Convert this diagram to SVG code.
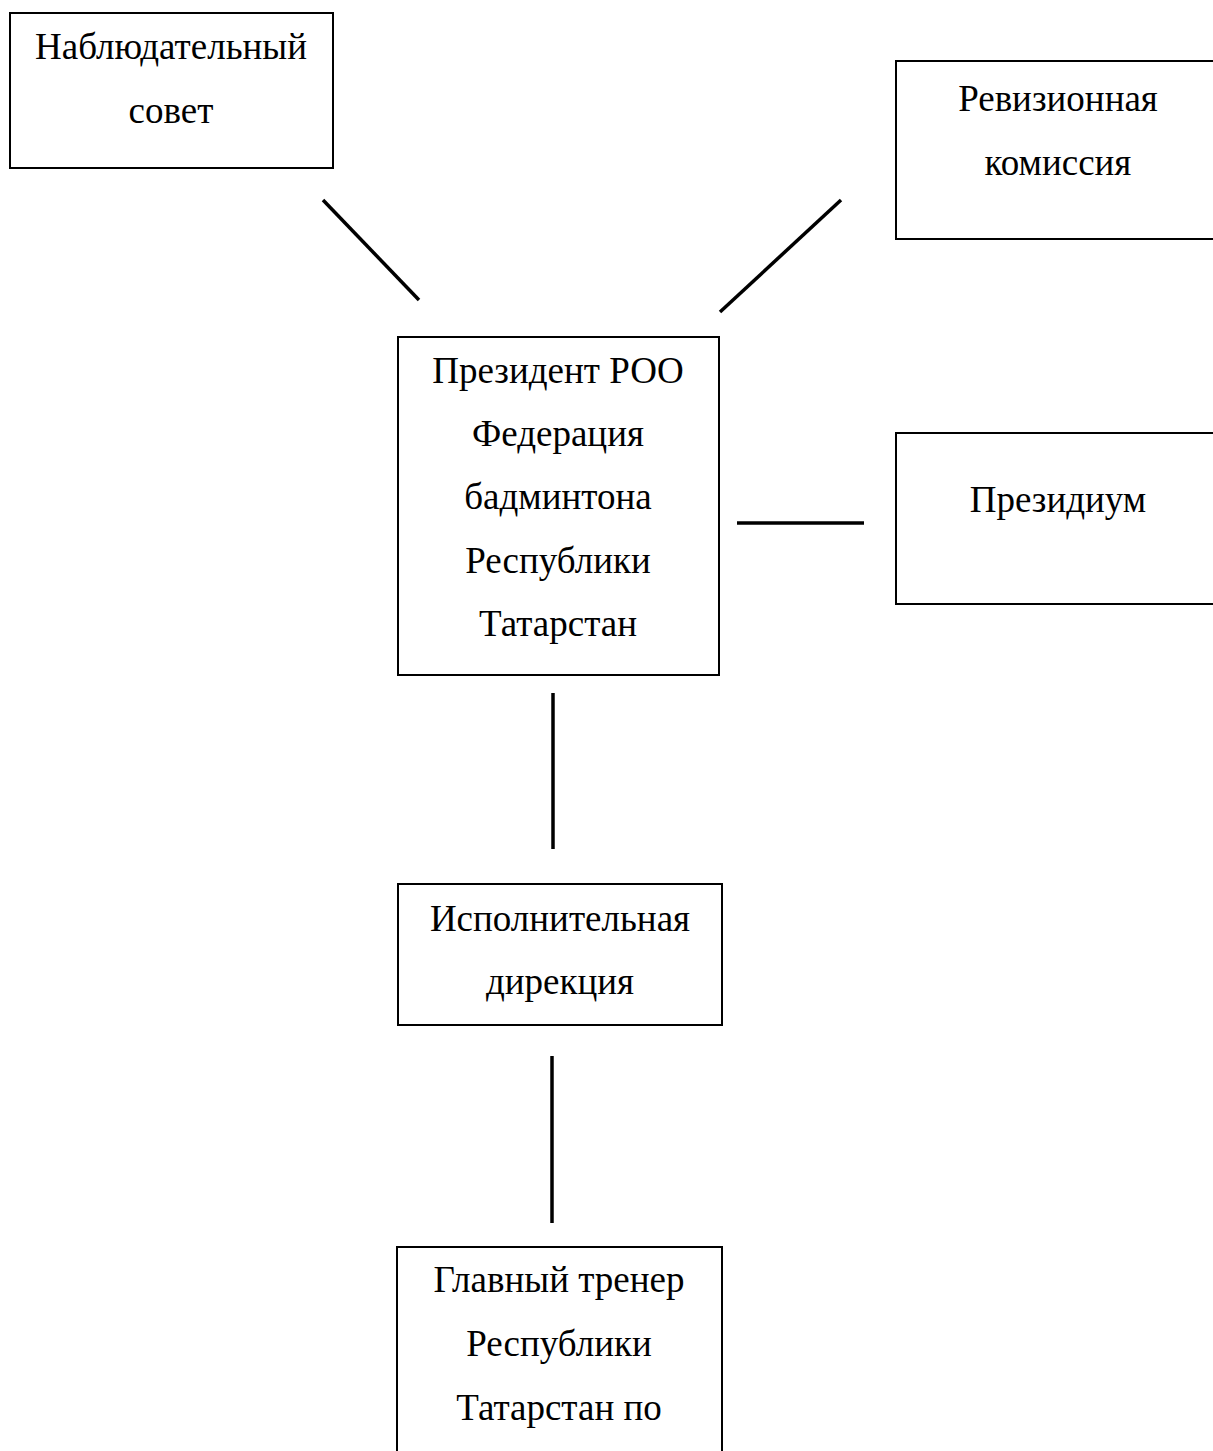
<svg xmlns="http://www.w3.org/2000/svg" width="1213" height="1451" viewBox="0 0 1213 1451">
<style>
.box{fill:#fff;stroke:#000;stroke-width:2}
.t{font-family:"Liberation Serif","Times New Roman",serif;font-size:37px;fill:#000;text-anchor:middle}
.c{stroke:#000;stroke-width:3.5;fill:none}
</style>
<rect width="1213" height="1451" fill="#fff"/>
<g id="connectors">
<line class="c" x1="323" y1="200" x2="419" y2="300"/>
<line class="c" x1="841" y1="200" x2="720" y2="312"/>
<line class="c" x1="737" y1="523" x2="864" y2="523"/>
<line class="c" x1="553" y1="693" x2="553" y2="849"/>
<line class="c" x1="552" y1="1056" x2="552" y2="1223"/>
</g>
<g id="node-nabl">
<rect class="box" x="10" y="13" width="323" height="155"/>
<text class="t" x="171" y="59">Наблюдательный</text>
<text class="t" x="171" y="123">совет</text>
</g>
<g id="node-reviz">
<rect class="box" x="896" y="61" width="330" height="178"/>
<text class="t" x="1058" y="111">Ревизионная</text>
<text class="t" x="1058" y="175">комиссия</text>
</g>
<g id="node-president">
<rect class="box" x="398" y="337" width="321" height="338"/>
<text class="t" x="558" y="383">Президент РОО</text>
<text class="t" x="558" y="446">Федерация</text>
<text class="t" x="558" y="509">бадминтона</text>
<text class="t" x="558" y="573">Республики</text>
<text class="t" x="558" y="636">Татарстан</text>
</g>
<g id="node-presidium">
<rect class="box" x="896" y="433" width="330" height="171"/>
<text class="t" x="1058" y="512">Президиум</text>
</g>
<g id="node-direction">
<rect class="box" x="398" y="884" width="324" height="141"/>
<text class="t" x="560" y="931">Исполнительная</text>
<text class="t" x="560" y="994">дирекция</text>
</g>
<g id="node-coach">
<rect class="box" x="397" y="1247" width="325" height="220"/>
<text class="t" x="559" y="1292">Главный тренер</text>
<text class="t" x="559" y="1356">Республики</text>
<text class="t" x="559" y="1420">Татарстан по</text>
</g>
</svg>
